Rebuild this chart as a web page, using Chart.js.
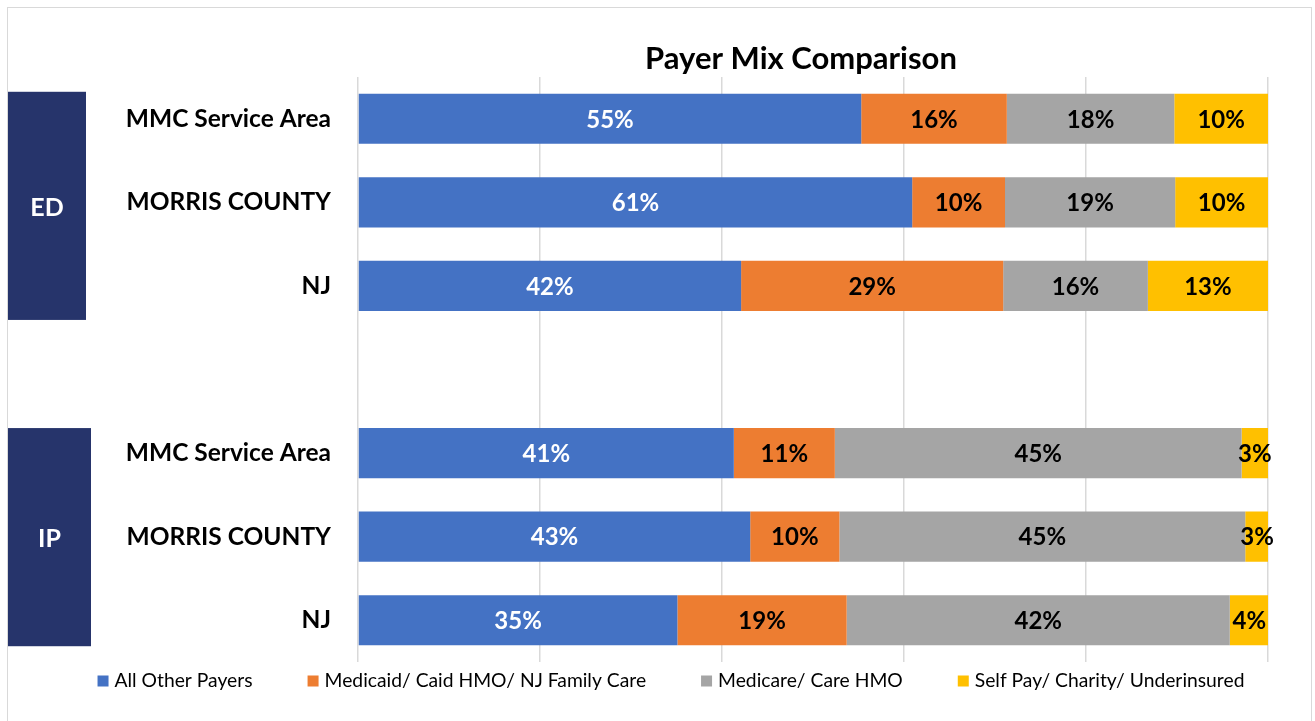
<!DOCTYPE html>
<html>
  <head>
    <title>Payer Mix Comparison</title>
    <script src="https://cdn.jsdelivr.net/npm/chart.js"></script>
    <style>
      body { margin: 0; background: #fff; }
    </style>
  </head>
  <body>
    <div style="width:1315px;height:721px">
      <canvas id="payerChart"></canvas>
    </div>
    <script>
      // rows (blank row is the spacer between ED and IP)
      var rowLabels = ["MMC Service Area", "MORRIS COUNTY", "NJ", "", "MMC Service Area", "MORRIS COUNTY", "NJ"];
      var groupLabels = ["ED", "IP"];
      var seriesNames = ["All Other Payers", "Medicaid/ Caid HMO/ NJ Family Care", "Medicare/ Care HMO", "Self Pay/ Charity/ Underinsured"];

      // percent of each row
      var allOtherPayers = [55.3, 60.9, 42.1, null, 41.3, 43.1, 35.1];
      var medicaid = [16.0, 10.2, 28.8, null, 11.1, 9.8, 18.6];
      var medicare = [18.4, 18.7, 15.9, null, 44.7, 44.6, 42.1];
      var selfPay = [10.3, 10.2, 13.2, null, 2.9, 2.6, 4.3];

      var xTicks = [0, 20, 40, 60, 80, 100];

      var colors = ["#4472C4", "#ED7D31", "#A5A5A5", "#FFC000"];
      var labelColors = ["#ffffff", "#000000", "#000000", "#000000"];
      var FONT = "Lato, 'Open Sans', sans-serif";

      var extras = {
        id: "extras",
        afterDraw: function (chart) {
          var ctx = chart.ctx;
          var area = chart.chartArea;
          var y = chart.scales.y;
          ctx.save();

          // outer frame
          ctx.strokeStyle = "#d9d9d9";
          ctx.lineWidth = 1;
          ctx.strokeRect(7.5, 7.5, 1304, 760);

          // title
          ctx.fillStyle = "#000";
          ctx.font = "bold 31px " + FONT;
          ctx.textAlign = "center";
          ctx.textBaseline = "middle";
          ctx.fillText("Payer Mix Comparison", (area.left + area.right) / 2 - 12, 59);

          // value labels
          ctx.font = "bold 24px " + FONT;
          chart.data.datasets.forEach(function (ds, i) {
            chart.getDatasetMeta(i).data.forEach(function (bar, j) {
              if (ds.data[j] == null) return;
              ctx.fillStyle = labelColors[i];
              ctx.fillText(Math.round(ds.data[j]) + "%", (bar.x + bar.base) / 2, bar.y + 1);
            });
          });

          // ED / IP side boxes
          var boxes = [
            { text: groupLabels[0], first: 0, last: 2, top: 27, bottom: 34, w: 78 },
            { text: groupLabels[1], first: 4, last: 6, top: 25, bottom: 26, w: 83 }
          ];
          boxes.forEach(function (b) {
            var t = y.getPixelForValue(b.first) - b.top;
            var btm = y.getPixelForValue(b.last) + b.bottom;
            ctx.fillStyle = "#26346B";
            ctx.fillRect(8, t, b.w, btm - t);
            ctx.fillStyle = "#fff";
            ctx.font = "bold 25px " + FONT;
            ctx.fillText(b.text, 8 + b.w / 2, (t + btm) / 2 + 2);
          });

          // legend
          ctx.font = "19.3px " + FONT;
          ctx.textAlign = "left";
          var box = 11, gap = 6, spacing = 55;
          var widths = seriesNames.map(function (n) { return box + gap + ctx.measureText(n).width; });
          var total = widths.reduce(function (a, b) { return a + b; }, 0) + spacing * (widths.length - 1);
          var lx = 671 - total / 2;
          var ly = 681;
          seriesNames.forEach(function (n, i) {
            ctx.fillStyle = colors[i];
            ctx.fillRect(lx, ly - box / 2, box, box);
            ctx.fillStyle = "#000";
            ctx.fillText(n, lx + box + gap, ly);
            lx += widths[i] + spacing;
          });

          ctx.restore();
        }
      };

      var ctx = document.getElementById("payerChart").getContext("2d");
      var payerChart = new Chart(ctx, {
        type: "bar",
        data: {
          labels: rowLabels,
          datasets: [
            { label: seriesNames[0], data: allOtherPayers, backgroundColor: colors[0] },
            { label: seriesNames[1], data: medicaid, backgroundColor: colors[1] },
            { label: seriesNames[2], data: medicare, backgroundColor: colors[2] },
            { label: seriesNames[3], data: selfPay, backgroundColor: colors[3] }
          ]
        },
        options: {
          indexAxis: "y",
          responsive: true,
          maintainAspectRatio: false,
          animation: false,
          borderWidth: 0,
          barPercentage: 1,
          categoryPercentage: 0.6,
          layout: { padding: { top: 77, right: 47, bottom: 59, left: 0 } },
          plugins: {
            legend: { display: false },
            title: { display: false },
            tooltip: { enabled: false }
          },
          scales: {
            x: {
              stacked: true,
              min: xTicks[0],
              max: xTicks[xTicks.length - 1],
              afterBuildTicks: function (axis) {
                axis.ticks = xTicks.map(function (v) { return { value: v }; });
              },
              ticks: { display: false },
              grid: { color: "#d9d9d9", lineWidth: 1.5, drawTicks: false },
              border: { display: false }
            },
            y: {
              stacked: true,
              grid: { display: false, drawTicks: false },
              border: { display: false },
              afterFit: function (axis) { axis.width = 358; },
              ticks: {
                color: "#000",
                padding: 27,
                font: { family: FONT, size: 24.5, weight: "bold" }
              }
            }
          }
        },
        plugins: [extras]
      });
    </script>
  </body>
</html>
